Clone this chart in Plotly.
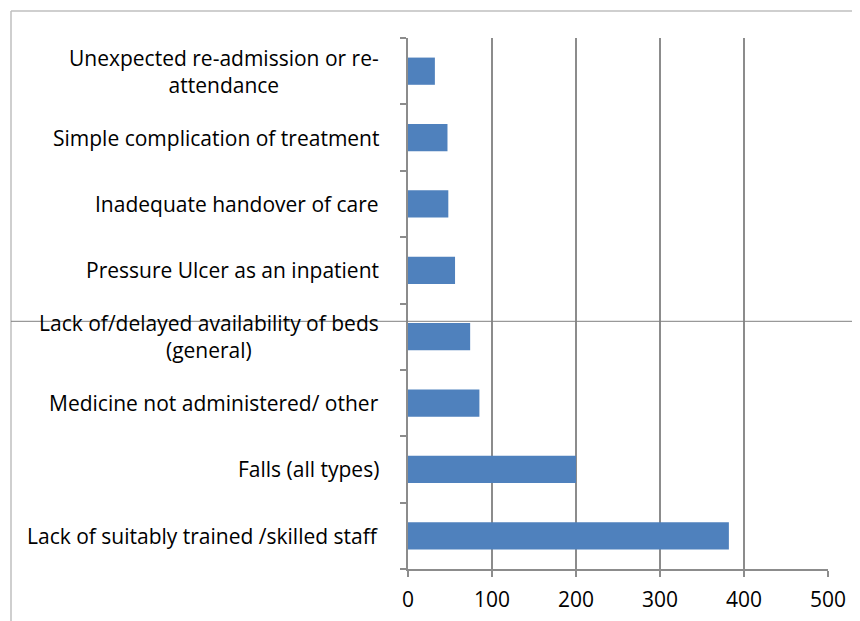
import plotly.graph_objects as go

categories = [
    "Lack of suitably trained /skilled staff",
    "Falls (all types)",
    "Medicine not administered/ other",
    "Lack of/delayed availability of beds<br>(general)",
    "Pressure Ulcer as an inpatient",
    "Inadequate handover of care",
    "Simple complication of treatment",
    "Unexpected re-admission or re-<br>attendance",
]
values = [382, 200, 85, 74, 56, 48, 47, 32]
x_ticks = [0, 100, 200, 300, 400, 500]

OFF = 8  # page body margin
W, H = 860 - OFF, 621 - OFF
L, T = 408 - OFF, 38 - OFF
pw, ph = 420, 531
R, B = W - L - pw, H - T - ph
FONT = "Open Sans"
FS = 21

def px(xp):
    return (xp - OFF - L) / pw

def py(yp):
    return (T + ph - (yp - OFF)) / ph

fig = go.Figure()
fig.add_trace(go.Bar(
    y=list(range(len(categories))), x=values, orientation="h",
    marker=dict(color="#4F81BD", line=dict(width=0)),
    width=0.41,
))

annotations = []
for i, c in enumerate(categories):
    annotations.append(dict(
        x=px(381), xref="paper", y=i, yref="y", text=c, showarrow=False,
        xanchor="right", yanchor="middle", align="center",
        font=dict(family=FONT, size=FS, color="black"),
    ))

border = "#BFBFBF"
shapes = [
    dict(type="line", xref="paper", yref="paper", x0=px(11), x1=px(860), y0=py(11), y1=py(11),
         line=dict(color=border, width=1.5)),
    dict(type="line", xref="paper", yref="paper", x0=px(11), x1=px(11), y0=py(11), y1=py(621),
         line=dict(color=border, width=1.5)),
    dict(type="line", xref="paper", yref="paper", x0=px(11), x1=px(860), y0=py(321.3), y1=py(321.3),
         line=dict(color="#808080", width=1)),
]

fig.update_layout(
    width=W, height=H,
    margin=dict(l=L, r=R, t=T, b=B, autoexpand=False),
    paper_bgcolor="white", plot_bgcolor="white",
    showlegend=False,
    annotations=annotations,
    shapes=shapes,
    xaxis=dict(
        range=[0, 500], tickvals=x_ticks, ticktext=[str(v) for v in x_ticks],
        showgrid=True, gridcolor="#8C8C8C", gridwidth=1.5,
        showline=True, linecolor="#8C8C8C", linewidth=1.5,
        ticks="outside", ticklen=6, tickcolor="#8C8C8C", tickwidth=1.5,
        ticklabelstandoff=5, automargin=False,
        zeroline=False,
        tickfont=dict(family=FONT, size=FS, color="black"),
    ),
    yaxis=dict(
        range=[-0.5, len(categories) - 0.5],
        tickvals=[i - 0.5 for i in range(len(categories) + 1)],
        showticklabels=False, automargin=False,
        showgrid=False, zeroline=False,
        showline=True, linecolor="#8C8C8C", linewidth=1.5,
        ticks="outside", ticklen=6, tickcolor="#8C8C8C", tickwidth=1.5,
    ),
)

fig.write_html("out.html")
